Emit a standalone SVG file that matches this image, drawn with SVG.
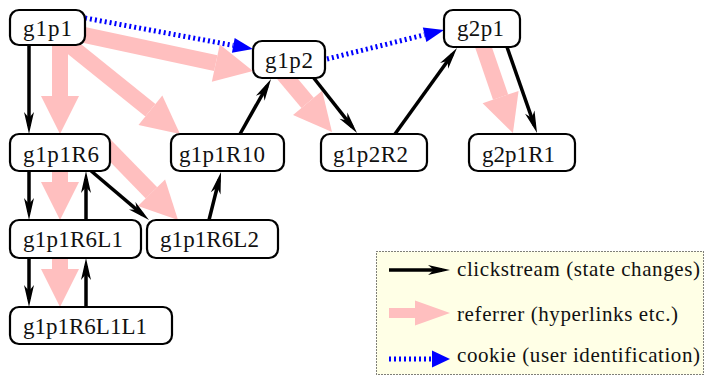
<svg xmlns="http://www.w3.org/2000/svg" width="708" height="376" viewBox="0 0 708 376">
  <style>
    .node rect { fill: #ffffff; stroke: #000000; stroke-width: 2.2; }
    .node text { font-size: 23px; fill: #111111; }
    .legend text { font-size: 21px; fill: #111111; }
    .click { stroke: #000000; stroke-width: 3.5; fill: none; marker-end: url(#headClick); }
    .ref { stroke: #ffbfbf; stroke-width: 16; fill: none; marker-end: url(#headRef); }
    .cookie { stroke: #0000ff; stroke-width: 5; stroke-dasharray: 2 3; fill: none; marker-end: url(#headCookie); }
  </style>
  <defs>
    <!-- slim black head; tip sits 8px past the line end -->
    <marker id="headClick" markerUnits="userSpaceOnUse" orient="auto" refX="-8" refY="0"
            viewBox="-23 -6 24 12" markerWidth="24" markerHeight="12" overflow="visible">
      <path d="M0,0 L-22,-5 L-16,0 L-22,5 Z" fill="#000000"/>
    </marker>
    <!-- broad pink head; base sits at the line end -->
    <marker id="headRef" markerUnits="userSpaceOnUse" orient="auto" refX="0" refY="0"
            viewBox="0 -19 38 38" markerWidth="38" markerHeight="38" overflow="visible">
      <path d="M0,-19 L38,0 L0,19 Z" fill="#ffbfbf"/>
    </marker>
    <!-- blue triangle head; base sits at the line end -->
    <marker id="headCookie" markerUnits="userSpaceOnUse" orient="auto" refX="0" refY="0"
            viewBox="0 -8 20 16" markerWidth="20" markerHeight="16" overflow="visible">
      <path d="M0,-7.5 L20,0 L0,7.5 Z" fill="#0000ff"/>
    </marker>
  </defs>

  <g id="connectors">
    <!-- referrer links -->
    <line class="ref" x1="60" y1="40" x2="60" y2="96"/>
    <line class="ref" x1="47" y1="27" x2="215.8" y2="63.1"/>
    <line class="ref" x1="47" y1="27" x2="150.4" y2="110.2"/>
    <line class="ref" x1="60" y1="165" x2="60" y2="182"/>
    <line class="ref" x1="100" y1="140" x2="151.5" y2="192.8"/>
    <line class="ref" x1="60" y1="250" x2="60" y2="269"/>
    <line class="ref" x1="270" y1="58" x2="307.6" y2="102.9"/>
    <line class="ref" x1="481" y1="40" x2="500.6" y2="97.1"/>

    <!-- cookie links -->
    <line class="cookie" x1="85" y1="18" x2="233.3" y2="45.4"/>
    <line class="cookie" x1="327" y1="59" x2="424.6" y2="34.8"/>

    <!-- clickstream -->
    <line class="click" x1="29" y1="45" x2="29" y2="126"/>
    <line class="click" x1="29" y1="171" x2="29" y2="212"/>
    <line class="click" x1="29" y1="258" x2="29" y2="299"/>
    <line class="click" x1="86" y1="220" x2="86" y2="179"/>
    <line class="click" x1="86" y1="307" x2="86" y2="266"/>
    <line class="click" x1="240" y1="134" x2="267.1" y2="86"/>
    <line class="click" x1="313" y1="77" x2="352.1" y2="126.7"/>
    <line class="click" x1="395" y1="134" x2="452.3" y2="54.5"/>
    <line class="click" x1="507" y1="47" x2="534.4" y2="125.4"/>
    <line class="click" x1="90" y1="170" x2="142.9" y2="214.8"/>
    <line class="click" x1="209" y1="220" x2="219.1" y2="179.8"/>
  </g>

  <g id="nodes" font-family="'Liberation Serif', 'Times New Roman', Times, 'DejaVu Serif', 'Noto Serif', serif">
    <g id="g1p1" class="node">
      <rect x="10" y="10" width="75" height="35" rx="9"/>
      <text x="23" y="36" textLength="49">g1p1</text>
    </g>
    <g id="g1p2" class="node">
      <rect x="253" y="41" width="72" height="37" rx="9"/>
      <text x="265" y="68" textLength="48">g1p2</text>
    </g>
    <g id="g2p1" class="node">
      <rect x="444" y="10" width="76" height="37" rx="9"/>
      <text x="457" y="36" textLength="47">g2p1</text>
    </g>
    <g id="g1p1R6" class="node">
      <rect x="10" y="134" width="100" height="37" rx="9"/>
      <text x="23" y="162" textLength="76">g1p1R6</text>
    </g>
    <g id="g1p1R10" class="node">
      <rect x="171" y="134" width="113" height="37" rx="9"/>
      <text x="179" y="162" textLength="86">g1p1R10</text>
    </g>
    <g id="g1p2R2" class="node">
      <rect x="321" y="134" width="106" height="37" rx="9"/>
      <text x="333" y="162" textLength="75">g1p2R2</text>
    </g>
    <g id="g2p1R1" class="node">
      <rect x="469" y="134" width="106" height="37" rx="9"/>
      <text x="482" y="162" textLength="73">g2p1R1</text>
    </g>
    <g id="g1p1R6L1" class="node">
      <rect x="10" y="220" width="131" height="38" rx="9"/>
      <text x="23" y="247" textLength="100">g1p1R6L1</text>
    </g>
    <g id="g1p1R6L2" class="node">
      <rect x="147" y="220" width="131" height="38" rx="9"/>
      <text x="160" y="247" textLength="99">g1p1R6L2</text>
    </g>
    <g id="g1p1R6L1L1" class="node">
      <rect x="10" y="307" width="162" height="37" rx="9"/>
      <text x="23" y="334" textLength="124">g1p1R6L1L1</text>
    </g>
  </g>

  <g id="legend" class="legend" font-family="'Liberation Serif', 'Times New Roman', Times, 'DejaVu Serif', 'Noto Serif', serif">
    <rect x="376.5" y="251.5" width="327" height="123" fill="#ffffe6" stroke="#000000" stroke-width="1" stroke-dasharray="1 2"/>
    <line x1="389" y1="270" x2="442" y2="270" stroke="#000000" stroke-width="3.5"/>
    <path d="M450,270 L428,265 L434,270 L428,275 Z" fill="#000000"/>
    <rect x="389" y="308" width="27" height="10" fill="#ffbfbf"/>
    <path d="M415,300.5 L450,313 L415,325.5 Z" fill="#ffbfbf"/>
    <line x1="389" y1="359" x2="432" y2="359" stroke="#0000ff" stroke-width="5" stroke-dasharray="2 3"/>
    <path d="M432,350.5 L450,359 L432,367.5 Z" fill="#0000ff"/>
    <text x="457" y="276" textLength="243">clickstream (state changes)</text>
    <text x="457" y="321" textLength="221">referrer (hyperlinks etc.)</text>
    <text x="457" y="362" textLength="243">cookie (user identification)</text>
  </g>
</svg>
